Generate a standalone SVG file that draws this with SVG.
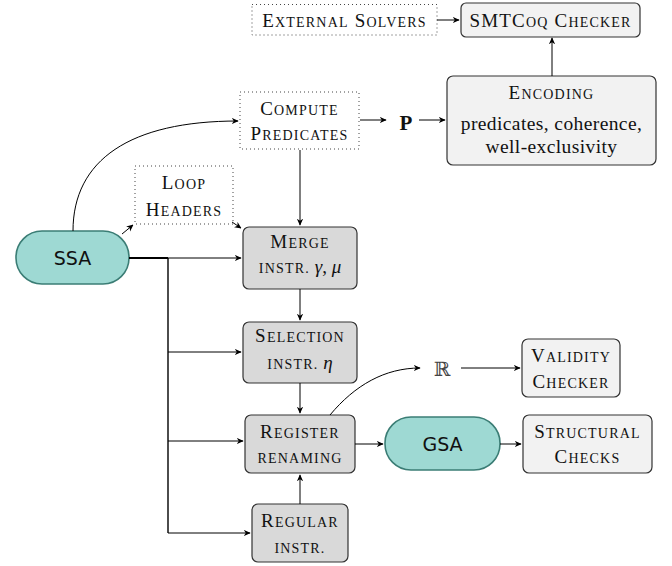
<svg xmlns="http://www.w3.org/2000/svg" width="672" height="566" viewBox="0 0 672 566">
<defs>
<marker id="arr" viewBox="0 0 10 10" refX="9" refY="5" markerWidth="7" markerHeight="7" markerUnits="userSpaceOnUse" orient="auto">
<path d="M0,0.5 L10,5 L0,9.5 L3,5 Z" fill="#000"/>
</marker>
</defs>
<style>
.t{font-family:"Liberation Serif","Times New Roman",serif;font-size:19px;fill:#111;text-anchor:middle}
.sc{letter-spacing:1.2px}
.m{font-size:14px}
.b{font-size:19.5px;letter-spacing:0.4px}
.s{font-family:"DejaVu Sans","Liberation Sans",sans-serif;font-size:19px;fill:#111;text-anchor:middle}
.dot{fill:#fff;stroke:#444;stroke-width:1;stroke-dasharray:1 3}
.gray{fill:#d9d9d9;stroke:#333;stroke-width:1.2}
.light{fill:#f2f2f2;stroke:#333;stroke-width:1.2}
.teal{fill:#9ed9d3;stroke:#3b7d75;stroke-width:1.6}
.e{fill:none;stroke:#000;stroke-width:1;marker-end:url(#arr)}
.l{fill:none;stroke:#000;stroke-width:1}
</style>
<rect width="672" height="566" fill="#fff"/>
<g id="ext">
<rect class="dot" x="252" y="4.5" width="185" height="30.5"/>
<text class="t sc" x="344.5" y="26.5">E<tspan class="m">XTERNAL</tspan> S<tspan class="m">OLVERS</tspan></text>
</g>
<g id="smt">
<rect class="light" x="461" y="3" width="179" height="34" rx="5"/>
<text class="t sc" x="550.5" y="26.5">SMTC<tspan class="m">OQ</tspan> C<tspan class="m">HECKER</tspan></text>
</g>
<g id="cp">
<rect class="dot" x="240" y="92" width="119" height="57"/>
<text class="t sc" x="299.5" y="115">C<tspan class="m">OMPUTE</tspan></text>
<text class="t sc" x="299.5" y="140">P<tspan class="m">REDICATES</tspan></text>
</g>
<g id="p">
<text class="t" x="406" y="130" style="font-weight:bold;font-size:21px">P</text>
</g>
<g id="enc">
<rect class="light" x="447" y="76" width="209" height="89" rx="6"/>
<text class="t sc" x="551.5" y="99">E<tspan class="m">NCODING</tspan></text>
<text class="t b" x="551.5" y="130">predicates, coherence,</text>
<text class="t b" x="551.5" y="153">well-exclusivity</text>
</g>
<g id="loop">
<rect class="dot" x="135" y="166" width="98" height="58"/>
<text class="t sc" x="184" y="189">L<tspan class="m">OOP</tspan></text>
<text class="t sc" x="184" y="216">H<tspan class="m">EADERS</tspan></text>
</g>
<g id="ssa">
<rect class="teal" x="16" y="231" width="113" height="53" rx="26"/>
<text class="s" x="72.5" y="265">SSA</text>
</g>
<g id="merge">
<rect class="gray" x="243" y="227" width="114" height="62" rx="6"/>
<text class="t sc" x="300" y="248">M<tspan class="m">ERGE</tspan></text>
<text class="t" x="300" y="273"><tspan class="m sc">INSTR.</tspan> <tspan font-style="italic">γ</tspan>, <tspan font-style="italic">μ</tspan></text>
</g>
<g id="sel">
<rect class="gray" x="243" y="322" width="114" height="61" rx="6"/>
<text class="t sc" x="300" y="342">S<tspan class="m">ELECTION</tspan></text>
<text class="t" x="300" y="369"><tspan class="m sc">INSTR.</tspan> <tspan font-style="italic">η</tspan></text>
</g>
<g id="reg">
<rect class="gray" x="245" y="415" width="110" height="58" rx="6"/>
<text class="t sc" x="300" y="438">R<tspan class="m">EGISTER</tspan></text>
<text class="t sc" x="300" y="463"><tspan class="m">RENAMING</tspan></text>
</g>
<g id="regular">
<rect class="gray" x="252" y="504" width="96" height="58" rx="6"/>
<text class="t sc" x="300" y="527">R<tspan class="m">EGULAR</tspan></text>
<text class="t sc" x="300" y="553"><tspan class="m">INSTR.</tspan></text>
</g>
<g id="gsa">
<rect class="teal" x="385" y="417" width="115" height="53" rx="26"/>
<text class="s" x="442.5" y="451">GSA</text>
</g>
<g id="r">
<text x="442" y="376" style="font-family:'DejaVu Serif',serif;font-size:20px;fill:#444;text-anchor:middle">ℝ</text>
</g>
<g id="valid">
<rect class="light" x="522" y="339" width="98" height="58" rx="6"/>
<text class="t sc" x="571" y="362">V<tspan class="m">ALIDITY</tspan></text>
<text class="t sc" x="571" y="388">C<tspan class="m">HECKER</tspan></text>
</g>
<g id="struct">
<rect class="light" x="523" y="415" width="129" height="58" rx="6"/>
<text class="t sc" x="587.5" y="438">S<tspan class="m">TRUCTURAL</tspan></text>
<text class="t sc" x="587.5" y="463">C<tspan class="m">HECKS</tspan></text>
</g>
<g id="connectors">
<path class="e" d="M437,20 L459,20"/>
<path class="e" d="M552,76 L552,38"/>
<path class="e" d="M360,120 L386,120"/>
<path class="e" d="M419,120 L445,120"/>
<path class="e" d="M73,231 C73,160 130,121 238,121"/>
<path class="e" d="M122,234 L133,225"/>
<path class="e" d="M232,222 L241,228"/>
<path class="e" d="M300,150 L300,225"/>
<path class="l" d="M129,258 L168,258" style="stroke-width:2"/>
<path class="e" d="M168,258 L241,258"/>
<path class="l" d="M168,258 L168,533" style="stroke-width:1.4"/>
<path class="e" d="M168,352 L241,352"/>
<path class="e" d="M168,441 L243,441"/>
<path class="e" d="M168,533 L250,533"/>
<path class="e" d="M300,289 L300,320"/>
<path class="e" d="M300,383 L300,413"/>
<path class="e" d="M300,504 L300,475"/>
<path class="e" d="M355,444 L383,444"/>
<path class="e" d="M500,444 L521,444"/>
<path class="e" d="M330,415 C355,385 385,368 420,368"/>
<path class="e" d="M461,368 L520,368"/>
</g>
</svg>
